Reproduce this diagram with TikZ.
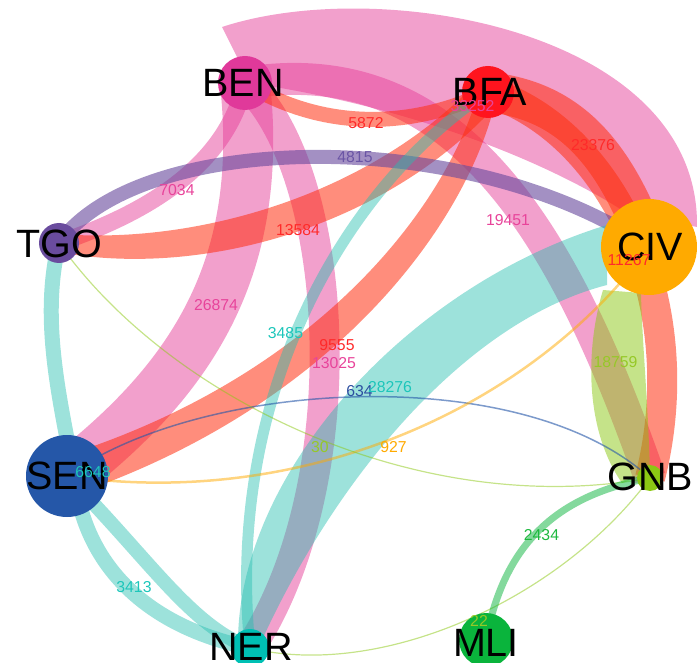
\documentclass[tikz,border=0pt]{standalone}
\usepackage{fontspec}
\setmainfont{Liberation Sans}
\usetikzlibrary{calc,backgrounds}
\definecolor{cBEN}{HTML}{E0399A}
\definecolor{cBFA}{HTML}{FF141E}
\definecolor{cTGO}{HTML}{6A4C9E}
\definecolor{cCIV}{HTML}{FFAA00}
\definecolor{cSEN}{HTML}{2557A8}
\definecolor{cGNB}{HTML}{8CC814}
\definecolor{cNER}{HTML}{00C0B4}
\definecolor{cMLI}{HTML}{0AB43C}
\definecolor{ePink}{HTML}{E6419A}
\definecolor{eRed}{HTML}{FF3010}
\definecolor{eTeal}{HTML}{26BEB0}
\definecolor{ePurple}{HTML}{6A4C9E}
\definecolor{eLime}{HTML}{8CC814}
\definecolor{eGreen}{HTML}{0AB43C}
\definecolor{eBlue}{HTML}{2557A8}
\definecolor{eOrange}{HTML}{FFAA00}
\definecolor{lPink}{HTML}{E8449A}
\definecolor{lRed}{HTML}{FF2A2A}
\definecolor{lPurple}{HTML}{6A55A5}
\definecolor{lTeal}{HTML}{1CC6BA}
\definecolor{lLime}{HTML}{96C828}
\definecolor{lBlue}{HTML}{2B4FA0}
\definecolor{lOrange}{HTML}{FFAA00}
\definecolor{lGreen}{HTML}{1DB83E}
\tikzset{
  pinkS/.style={draw=ePink, draw opacity=.5, line cap=butt},
  pinkF/.style={fill=ePink, fill opacity=.5},
  redS/.style={draw=eRed, draw opacity=.55, line cap=butt},
  redF/.style={fill=eRed, fill opacity=.55},
  tealS/.style={draw=eTeal, draw opacity=.45, line cap=butt},
  tealF/.style={fill=eTeal, fill opacity=.45},
  purpleS/.style={draw=ePurple, draw opacity=.62, line cap=butt},
  limeS/.style={draw=eLime, draw opacity=.5, line cap=butt},
  limeF/.style={fill=eLime, fill opacity=.5},
  greenS/.style={draw=eGreen, draw opacity=.5, line cap=butt},
  blueS/.style={draw=eBlue, draw opacity=.6},
  orangeS/.style={draw=eOrange, draw opacity=.5},
  dot/.style={circle, draw=none, inner sep=0pt},
  nlbl/.style={inner sep=0pt, font=\fontsize{39.5}{40}\selectfont, text=black},
  elbl/.style={inner sep=0pt, font=\fontsize{15.8}{16}\selectfont},
}
\begin{document}
\begin{tikzpicture}[x=1pt,y=-1pt]
\useasboundingbox (0,0) rectangle (697,663);
% node discs
\node[dot, fill=cBEN, minimum size=54pt] (BEN) at (245,83) {};
\node[dot, fill=cBFA, minimum size=52pt] (BFA) at (488,92) {};
\node[dot, fill=cTGO, minimum size=40pt] (TGO) at (59,243) {};
\node[dot, fill=cCIV, minimum size=96pt] (CIV) at (649,247) {};
\node[dot, fill=cSEN, minimum size=82pt] (SEN) at (67,476) {};
\node[dot, fill=cGNB, minimum size=26pt] (GNB) at (650,478) {};
\node[dot, fill=cNER, minimum size=38pt] (NER) at (250,648) {};
\node[dot, fill=cMLI, minimum size=54pt] (MLI) at (486,640) {};
\begin{pgfonlayer}{background}
% 33252 BEN-CIV
\fill[pinkF] ($(BEN)+(-23,-56)$) .. controls (380,-25) and (700,30) .. ($(CIV)+(48,-20)$)
   -- ($(CIV)+(-24,-35)$) .. controls (560,170) and (430,110) .. ($(BEN)+(5,0)$) -- cycle;
% 19451 BEN-GNB
\draw[pinkS, line width=32pt] (BEN.center) .. controls (450,50) and (560,220) .. (GNB.center);
% 7034 BEN-TGO
\draw[pinkS, line width=17pt] (BEN.center) .. controls (225,170) and (140,215) .. (TGO.center);
% 26874 BEN-SEN
\draw[pinkS, line width=50pt] (BEN.center) .. controls (265,270) and (190,380) .. (SEN.center);
% 13025 BEN-NER
\draw[pinkS, line width=30pt] (BEN.center) .. controls (340,170) and (360,480) .. (NER.center);
% 5872 BFA-BEN
\draw[redS, line width=15pt] (BEN.center) .. controls (330,135) and (420,125) .. (BFA.center);
% 23376 BFA-CIV
\draw[redS, line width=40pt] (BFA.center) .. controls (560,100) and (610,140) .. (CIV.center);
% 11267 BFA-GNB
\draw[redS, line width=30pt] (BFA.center) .. controls (610,130) and (695,300) .. (GNB.center);
% 13584 BFA-TGO (tapered)
\fill[redF] ($(TGO)+(1,-9)$) .. controls (198,245) and (371,194) .. ($(BFA)+(-11,-10)$)
   -- ($(BFA)+(11,10)$) .. controls (389,226) and (202,279) .. ($(TGO)+(-1,9)$) -- cycle;
% 9555 BFA-SEN (tapered)
\fill[redF] ($(BFA)+(-9,-2)$) .. controls (448,204) and (320,376) .. ($(SEN)+(-6,-19)$)
   -- ($(SEN)+(6,19)$) .. controls (340,404) and (472,216) .. ($(BFA)+(9,2)$) -- cycle;
% 4815 TGO-CIV
\draw[purpleS, line width=14pt] (TGO.center) .. controls (140,130) and (470,125) .. (CIV.center);
% 28276 NER-CIV
\fill[tealF] ($(NER)+(-12,-8)$) .. controls (240,470) and (410,285) .. ($(CIV)+(-42,-22)$)
   -- ($(CIV)+(-42,38)$) .. controls (470,320) and (340,470) .. ($(NER)+(12,-8)$) -- cycle;
% 3485 NER-BFA
\draw[tealS, line width=11pt] (NER.center) .. controls (225,400) and (340,190) .. (BFA.center);
% 6648 TGO-NER
\coordinate (tgoner) at (75,480);
\draw[tealS, line width=15pt] (TGO.center) .. controls (40,320) and (60,400) .. (tgoner)
   .. controls (85,560) and (140,625) .. (NER.center);
% 3413 SEN-NER
\draw[tealS, line width=14pt] (SEN.center) .. controls (150,560) and (190,625) .. (NER.center);
% 18759 GNB-CIV
\fill[limeF] ($(CIV)+(-46,43)$) .. controls (585,350) and (585,430) .. ($(GNB)+(-28,5)$)
   -- ($(GNB)+(0,-5)$) .. controls (648,400) and (642,340) .. ($(CIV)+(-8,46)$) -- cycle;
% 634 SEN-GNB
\draw[blueS, line width=1.5pt] (SEN.center) .. controls (200,380) and (520,360) .. (GNB.center);
% 927 CIV-SEN
\draw[orangeS, line width=2.5pt] (SEN.center) .. controls (300,510) and (530,410) .. (CIV.center);
% 30 GNB-TGO
\draw[limeS, line width=1.2pt] (TGO.center) .. controls (170,400) and (420,520) .. (GNB.center);
% 22 GNB-NER
\draw[limeS, line width=1.2pt] (NER.center) .. controls (380,680) and (560,600) .. (GNB.center);
% 2434 MLI-GNB
\draw[greenS, line width=7pt] (MLI.center) .. controls (505,540) and (560,495) .. (GNB.center);
\end{pgfonlayer}
% node labels
\node[nlbl] (tBEN) at (243,82.5) {BEN};
\node[nlbl] (tBFA) at (490,92) {BFA};
\node[nlbl] (tTGO) at (59.5,243.5) {TGO};
\node[nlbl] (tCIV) at (650,247) {CIV};
\node[nlbl] (tSEN) at (67,476) {SEN};
\node[nlbl] (tGNB) at (650.5,476.5) {GNB};
\node[nlbl] (tNER) at (251,646.5) {NER};
\node[nlbl] (tMLI) at (486,642.5) {MLI};
% edge labels
\node[elbl, text=lPink] (l33252) at (472.5,106) {33252};
\node[elbl, text=lRed] (l5872) at (366,123) {5872};
\node[elbl, text=lPurple] (l4815) at (355,157.5) {4815};
\node[elbl, text=lRed] (l23376) at (593,145) {23376};
\node[elbl, text=lRed] (l13584) at (298,230) {13584};
\node[elbl, text=lPink] (l19451) at (508,220) {19451};
\node[elbl, text=lRed] (l11267) at (629,260) {11267};
\node[elbl, text=lPink] (l7034) at (177,190) {7034};
\node[elbl, text=lPink] (l26874) at (216,305) {26874};
\node[elbl, text=lTeal] (l3485) at (285.5,333) {3485};
\node[elbl, text=lRed] (l9555) at (337,345) {9555};
\node[elbl, text=lPink] (l13025) at (334,363) {13025};
\node[elbl, text=lBlue] (l634) at (359.5,391) {634};
\node[elbl, text=lTeal] (l28276) at (390,387) {28276};
\node[elbl, text=lLime] (l30) at (320,447.5) {30};
\node[elbl, text=lOrange] (l927) at (393.5,447.5) {927};
\node[elbl, text=lLime] (l18759) at (615.5,362) {18759};
\node[elbl, text=lGreen] (l2434) at (541.5,535.5) {2434};
\node[elbl, text=lTeal] (l6648) at (93,472) {6648};
\node[elbl, text=lTeal] (l3413) at (134,587.5) {3413};
\node[elbl, text=lLime] (l22) at (479,621) {22};
\end{tikzpicture}
\end{document}
